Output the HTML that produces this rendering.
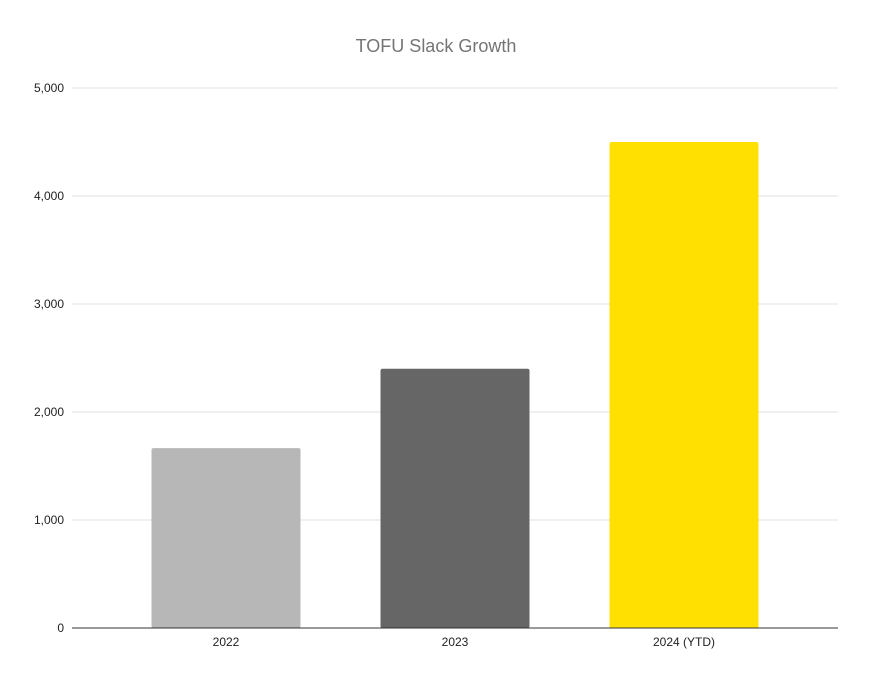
<!DOCTYPE html>
<html><head><meta charset="utf-8"><style>
body{margin:0;background:#fff;}
svg{display:block;font-family:"Liberation Sans",Arial,sans-serif;}
</style></head><body>
<svg id="chart" width="873" height="683" viewBox="0 0 873 683">
<rect width="873" height="683" fill="#fff"/>
<text x="436" y="52" text-anchor="middle" font-size="18" fill="#757575">TOFU Slack Growth</text>
<g id="grid"></g><g id="bars"></g><g id="xlabels"></g><g id="ylabels"></g>
<line x1="72" x2="838" y1="628" y2="628" stroke="#333" stroke-width="1"/>
</svg>
<script>
const categories = ["2022", "2023", "2024 (YTD)"];
const values = [1665, 2400, 4500];
const colors = ["#b7b7b7", "#666666", "#ffe000"];
const yTicks = [0, 1000, 2000, 3000, 4000, 5000];
const yTickLabels = ["0", "1,000", "2,000", "3,000", "4,000", "5,000"];

const NS = "http://www.w3.org/2000/svg";
const y0 = 628, pxPer = 108 / 1000;
function yScale(v){ return y0 - v * pxPer; }
const bandStart = 111.5, bandW = 229, barW = 149;
function xCenter(i){ return bandStart + bandW * (i + 0.5); }
function mk(tag, attrs, parent){ const e = document.createElementNS(NS, tag); for (const k in attrs) e.setAttribute(k, attrs[k]); parent.appendChild(e); return e; }

const grid = document.getElementById("grid"), ylab = document.getElementById("ylabels");
yTicks.forEach((t, i) => {
  if (t !== 0) {
    const l = mk("line", {x1: 72, x2: 838, y1: yScale(t), y2: yScale(t), stroke: "#e0e0e0", "stroke-width": 1}, grid);
    
    
  }
  const tx = mk("text", {x: 64, y: yScale(t) + 4, "text-anchor": "end", "font-size": 12, fill: "#222"}, ylab);
  tx.textContent = yTickLabels[i];
  
  
});
const bars = document.getElementById("bars"), xlab = document.getElementById("xlabels");
categories.forEach((c, i) => {
  const top = yScale(values[i]);
  const r = mk("rect", {x: xCenter(i) - barW / 2, y: top, width: barW, height: y0 - top, fill: colors[i], rx: 2}, bars);
  
  
  const tx = mk("text", {x: xCenter(i), y: 646, "text-anchor": "middle", "font-size": 12, fill: "#222"}, xlab);
  tx.textContent = c;
  
  
});
</script>
</body></html>
